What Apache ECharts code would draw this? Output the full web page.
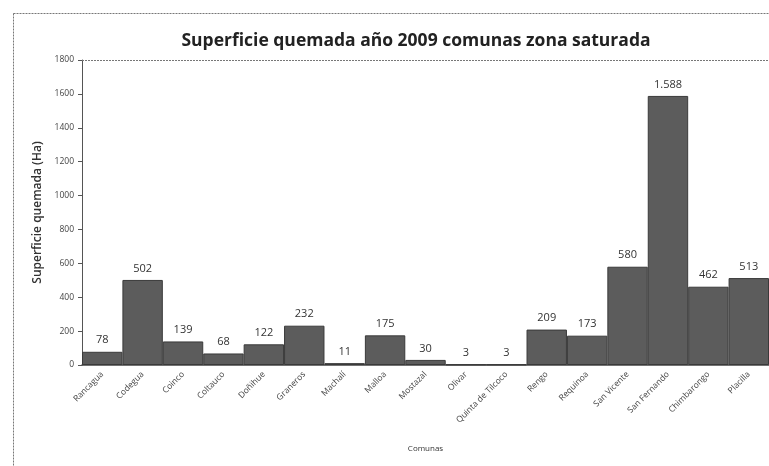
<!DOCTYPE html>
<html>
<head>
<meta charset="utf-8">
<script src="https://cdn.jsdelivr.net/npm/echarts@6/dist/echarts.min.js"></script>
<style>
  html, body { margin: 0; padding: 0; background: #fff; }
  #main { width: 769px; height: 466px; }
</style>
</head>
<body>
<div id="main"></div>
<script>
// comunas de la zona saturada
const comunas = ['Rancagua', 'Codegua', 'Coinco', 'Coltauco', 'Doñihue', 'Graneros', 'Machalí', 'Malloa',
  'Mostazal', 'Olivar', 'Quinta de Tilcoco', 'Rengo', 'Requinoa', 'San Vicente', 'San Fernando',
  'Chimbarongo', 'Placilla'];
// superficie quemada (Ha)
const superficie = [78, 502, 139, 68, 122, 232, 11, 175, 30, 3, 3, 209, 173, 580, 1588, 462, 513];
const yTicks = [0, 200, 400, 600, 800, 1000, 1200, 1400, 1600, 1800];

const fmt = (v) => String(v).replace(/\B(?=(\d{3})+(?!\d))/g, '.');

const chart = echarts.init(document.getElementById('main'));
chart.setOption({
  animation: false,
  backgroundColor: '#fff',
  textStyle: { fontFamily: 'Open Sans' },
  title: {
    text: 'Superficie quemada año 2009 comunas zona saturada',
    left: 411,
    textAlign: 'center',
    top: 27,
    textStyle: { fontSize: 17.5, fontWeight: 'bold', color: '#222', fontFamily: 'Open Sans' }
  },
  graphic: [{
    type: 'rect',
    shape: { x: 13.5, y: 13.5, width: 800, height: 500 },
    style: { fill: 'none', stroke: '#777', lineWidth: 1, lineDash: [2, 1] },
    silent: true
  }],
  grid: { left: 82, top: 60, width: 688, bottom: 101 },
  xAxis: {
    type: 'category',
    data: comunas,
    name: 'Comunas',
    nameLocation: 'middle',
    nameGap: 80,
    nameTextStyle: { fontSize: 8, color: '#333' },
    axisLine: { lineStyle: { color: '#444', width: 1.5 } },
    axisTick: { show: false },
    axisLabel: { rotate: 45, fontSize: 8.5, color: '#444', interval: 0, margin: 8 }
  },
  yAxis: {
    type: 'value',
    min: yTicks[0],
    max: yTicks[yTicks.length - 1],
    interval: 200,
    name: 'Superficie quemada (Ha)',
    nameLocation: 'middle',
    nameGap: 38,
    nameTextStyle: { fontSize: 12, fontWeight: 600, color: '#333' },
    axisLine: { show: true, lineStyle: { color: '#555', width: 1 } },
    axisTick: { show: true, inside: false, length: 4, lineStyle: { color: '#555' } },
    axisLabel: { fontSize: 8.5, color: '#444', margin: 8, formatter: (v) => String(v) },
    splitLine: { show: false }
  },
  series: [{
    type: 'bar',
    data: superficie,
    barCategoryGap: '0%',
    itemStyle: { color: '#5c5c5c', borderColor: '#3a3a3a', borderWidth: 1 },
    label: {
      show: true,
      position: 'top',
      distance: 6,
      fontSize: 11,
      color: '#333',
      formatter: (p) => fmt(p.value)
    },
    markLine: {
      silent: true,
      symbol: 'none',
      label: { show: false },
      lineStyle: { color: '#777', type: [2, 1], width: 1 },
      data: [{ yAxis: yTicks[yTicks.length - 1] }]
    }
  }]
});
</script>
</body>
</html>
